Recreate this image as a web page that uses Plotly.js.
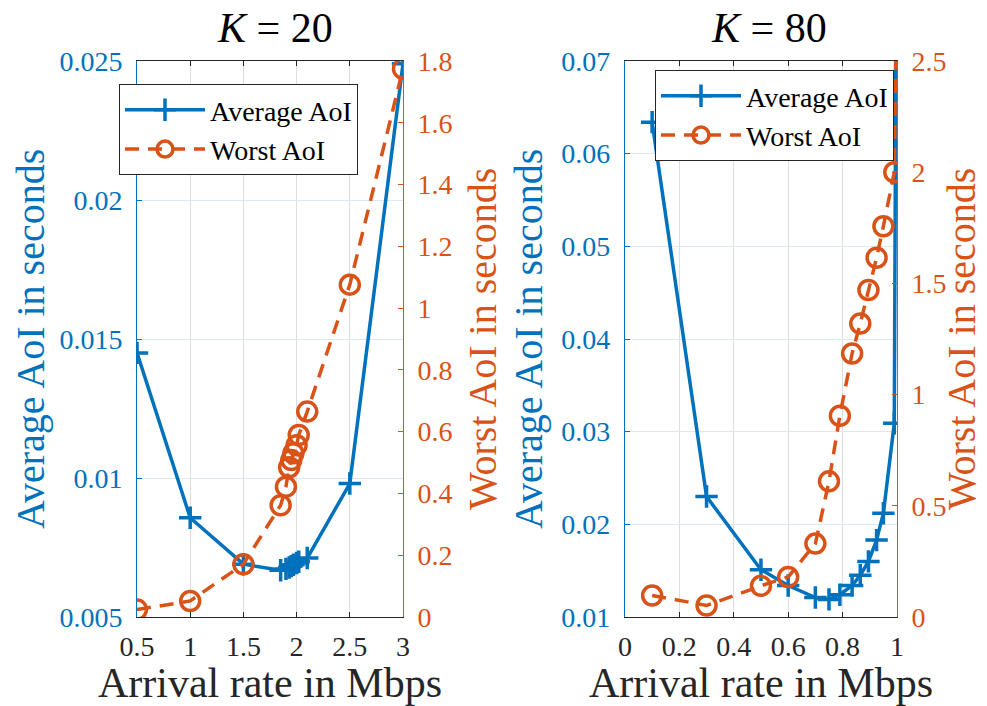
<!DOCTYPE html>
<html>
<head>
<meta charset="utf-8">
<script src="https://cdn.plot.ly/plotly-3.0.1.min.js"></script>
<style>html,body{margin:0;padding:0;background:#fff;}#chart{width:987px;height:706px;}</style>
</head>
<body>
<div id="chart"></div>
<script>
// ---- data: K = 20 ----
const rateK20 = [0.5, 1, 1.5, 1.85, 1.9, 1.93, 1.95, 1.97, 2.0, 2.02, 2.1, 2.5, 3];
const avgAoIK20 = [0.0145, 0.00857, 0.0069, 0.00668, 0.00673, 0.00678, 0.00683, 0.00688, 0.00694, 0.00699, 0.00712, 0.0098, 0.0249];
const worstAoIK20 = [0.024, 0.052, 0.171, 0.362, 0.422, 0.485, 0.508, 0.53, 0.556, 0.589, 0.665, 1.076, 1.775];
// ---- data: K = 80 ----
const rateK80 = [0.1, 0.3, 0.5, 0.6, 0.7, 0.75, 0.79, 0.835, 0.865, 0.895, 0.925, 0.95, 0.99, 1.0];
const avgAoIK80 = [0.0634, 0.0230, 0.0151, 0.0134, 0.0121, 0.0119, 0.0124, 0.0134, 0.0145, 0.0160, 0.0183, 0.0212, 0.0309, 0.1];
const worstAoIK80 = [0.097, 0.052, 0.14, 0.18, 0.33, 0.61, 0.905, 1.185, 1.32, 1.47, 1.615, 1.757, 2.0, 3.0];
// ---- tick labels ----
const xTicksK20 = [0.5, 1, 1.5, 2, 2.5, 3];
const xTickTextK20 = ["0.5", "1", "1.5", "2", "2.5", "3"];
const yAvgTicksK20 = [0.005, 0.01, 0.015, 0.02, 0.025];
const yAvgTickTextK20 = ["0.005", "0.01", "0.015", "0.02", "0.025"];
const yWorstTicksK20 = [0, 0.2, 0.4, 0.6, 0.8, 1, 1.2, 1.4, 1.6, 1.8];
const yWorstTickTextK20 = ["0", "0.2", "0.4", "0.6", "0.8", "1", "1.2", "1.4", "1.6", "1.8"];
const xTicksK80 = [0, 0.2, 0.4, 0.6, 0.8, 1];
const xTickTextK80 = ["0", "0.2", "0.4", "0.6", "0.8", "1"];
const yAvgTicksK80 = [0.01, 0.02, 0.03, 0.04, 0.05, 0.06, 0.07];
const yAvgTickTextK80 = ["0.01", "0.02", "0.03", "0.04", "0.05", "0.06", "0.07"];
const yWorstTicksK80 = [0, 0.5, 1, 1.5, 2, 2.5];
const yWorstTickTextK80 = ["0", "0.5", "1", "1.5", "2", "2.5"];
const seriesNames = ["Average AoI", "Worst AoI"];
const titles = ["<i>K</i> = 20", "<i>K</i> = 80"];
const xTitle = "Arrival rate in Mbps";
const yTitles = ["Average AoI in seconds", "Worst AoI in seconds"];

const BLUE = "#0072BD", ORANGE = "#D95319", DARK = "#262626";
const FONT = "Liberation Serif, Times New Roman, serif";

function avgTrace(x, y, xa, ya, leg) {
  return {x, y, xaxis: xa, yaxis: ya, type: "scatter", mode: "lines+markers", name: seriesNames[0],
    legend: leg, showlegend: true,
    line: {color: BLUE, width: 3.5},
    marker: {symbol: "cross-thin-open", size: 16, color: BLUE, line: {color: BLUE, width: 3.5}}};
}
function worstTrace(x, y, xa, ya, leg) {
  return {x, y, xaxis: xa, yaxis: ya, type: "scatter", mode: "lines+markers", name: seriesNames[1],
    legend: leg, showlegend: true,
    line: {color: ORANGE, width: 3.5, dash: "14px,9px"},
    marker: {symbol: "circle-open", size: 19, color: ORANGE, line: {color: ORANGE, width: 3.5}}};
}

const data = [
  avgTrace(rateK20, avgAoIK20, "x", "y", "legend"),
  worstTrace(rateK20, worstAoIK20, "x", "y2", "legend"),
  avgTrace(rateK80, avgAoIK80, "x2", "y3", "legend2"),
  worstTrace(rateK80, worstAoIK80, "x2", "y4", "legend2")
];

function xAxis(dom, range, tv, tt, anchor) {
  return {domain: dom, range, anchor, tickvals: tv, ticktext: tt, automargin: false, tickangle: 0,
    showline: true, linecolor: DARK, linewidth: 1, mirror: "ticks",
    ticks: "inside", ticklen: 5, tickcolor: DARK, tickwidth: 1,
    showgrid: true, gridcolor: "#dedede", gridwidth: 1, zeroline: false,
    tickfont: {family: FONT, size: 28, color: DARK}, ticklabelstandoff: 4,
    title: {text: xTitle, font: {family: FONT, size: 42, color: DARK}, standoff: 4}};
}
function yLeft(range, tv, tt, anchor) {
  return {domain: [0, 1], range, anchor, tickvals: tv, ticktext: tt, automargin: false,
    showline: true, linecolor: BLUE, linewidth: 1,
    ticks: "inside", ticklen: 5, tickcolor: BLUE, tickwidth: 1,
    showgrid: true, gridcolor: "#d9eaf5", gridwidth: 1, zeroline: false,
    tickfont: {family: FONT, size: 28, color: BLUE}, ticklabelstandoff: 8};
}
function yRight(range, tv, tt, anchor, overlay) {
  return {range, anchor, overlaying: overlay, side: "right", tickvals: tv, ticktext: tt, automargin: false,
    showline: true, linecolor: ORANGE, linewidth: 1,
    ticks: "inside", ticklen: 5, tickcolor: ORANGE, tickwidth: 1,
    showgrid: false, zeroline: false,
    tickfont: {family: FONT, size: 28, color: ORANGE}, ticklabelstandoff: 8};
}
function yTitleAnn(text, xPx, color) {
  return {text, xref: "paper", yref: "paper", x: (xPx - 137) / 760, y: 0.5, xanchor: "center", yanchor: "middle",
    textangle: -90, showarrow: false, font: {family: FONT, size: 40, color}};
}

const legendStyle = {xref: "container", yref: "container", xanchor: "left", yanchor: "top",
  bgcolor: "#fff", bordercolor: DARK, borderwidth: 1, font: {family: FONT, size: 28, color: "#000"},
  itemwidth: 80, tracegroupgap: 0};

const layout = {
  width: 987, height: 706,
  margin: {l: 137, r: 90, t: 61, b: 89, autoexpand: false},
  paper_bgcolor: "#fff", plot_bgcolor: "#fff",
  font: {family: FONT, color: DARK},
  xaxis: xAxis([0, 0.35], [0.5, 3], xTicksK20, xTickTextK20, "y"),
  yaxis: yLeft([0.005, 0.025], yAvgTicksK20, yAvgTickTextK20, "x"),
  yaxis2: yRight([0, 1.8], yWorstTicksK20, yWorstTickTextK20, "x", "y"),
  xaxis2: xAxis([0.642, 1], [0, 1], xTicksK80, xTickTextK80, "y3"),
  yaxis3: yLeft([0.01, 0.07], yAvgTicksK80, yAvgTickTextK80, "x2"),
  yaxis4: yRight([0, 2.5], yWorstTicksK80, yWorstTickTextK80, "x2", "y3"),
  legend: Object.assign({}, legendStyle, {x: 119 / 987, y: 1 - 84 / 706}),
  legend2: Object.assign({}, legendStyle, {x: 655 / 987, y: 1 - 70 / 706}),
  annotations: [
    {text: titles[0], xref: "x domain", yref: "paper", x: 0.52, y: 1, yanchor: "bottom", yshift: 8,
      showarrow: false, font: {family: FONT, size: 42, color: "#000"}},
    {text: titles[1], xref: "x2 domain", yref: "paper", x: 0.53, y: 1, yanchor: "bottom", yshift: 8,
      showarrow: false, font: {family: FONT, size: 42, color: "#000"}},
    yTitleAnn(yTitles[0], 30, BLUE),
    yTitleAnn(yTitles[1], 482, ORANGE),
    yTitleAnn(yTitles[0], 528, BLUE),
    yTitleAnn(yTitles[1], 961, ORANGE)
  ],
  showlegend: true
};

Plotly.newPlot("chart", data, layout, {displayModeBar: false, staticPlot: true});
</script>
</body>
</html>
